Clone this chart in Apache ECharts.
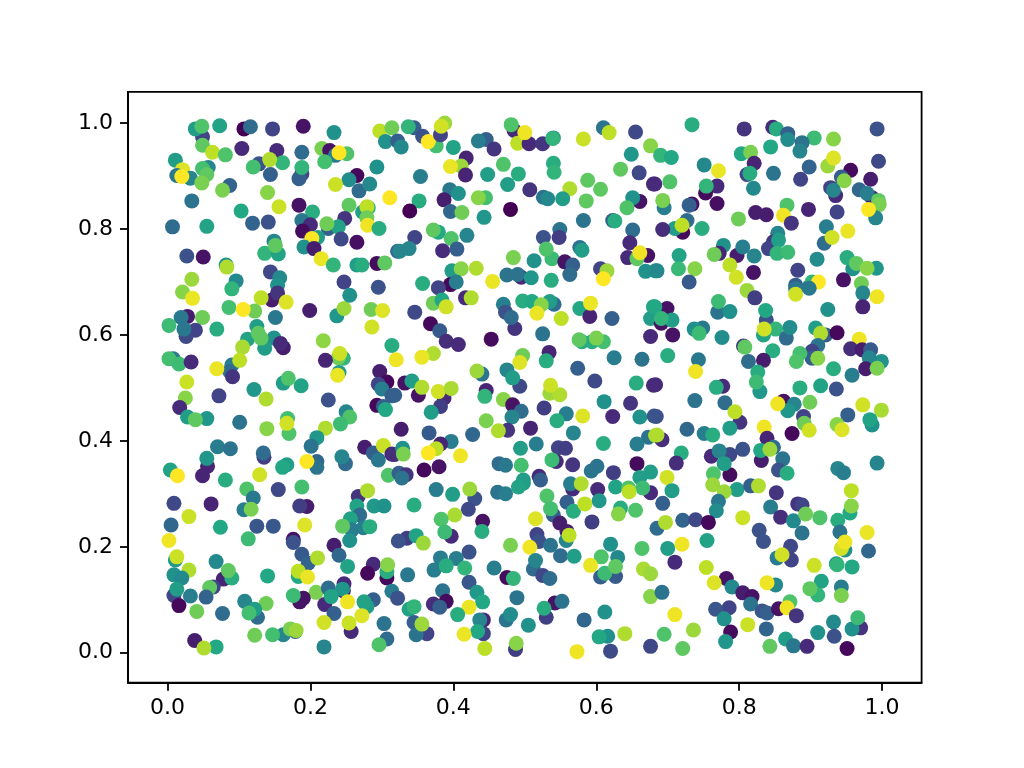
<!DOCTYPE html>
<html>
<head>
<meta charset="utf-8">
<title>Scatter</title>
<script src="https://cdn.jsdelivr.net/npm/echarts@6/dist/echarts.min.js"></script>
<style>
  html, body { margin: 0; padding: 0; background: #fff; }
  #chart { width: 1024px; height: 768px; }
</style>
</head>
<body>
<div id="chart"></div>
<script>
// points as [x, y, colour value 0..1], back to front in each block
const topLeft = [[.049,.974,.2],[.039,.989,.55],[.048,.994,.72],[.073,.995,.58],[.107,.989,0],[.116,.993,.35],[.147,.989,.2],[.190,.994,.05],[.233,.982,.5],[.297,.985,.9],[.314,.991,.78],[.305,.965,.5],[.049,.958,.75],[.063,.945,.9],[.081,.940,.72],[.104,.952,.12],[.153,.948,.12],[.188,.945,.35],[.011,.930,.55],[.216,.952,.8],[.227,.948,.05],[.235,.939,.42],[.251,.942,.72],[.240,.944,1],[.220,.927,.7],[.057,.916,.45],[.049,.914,.7],[.055,.903,.75],[.021,.912,.95],[.013,.901,.4],[.032,.896,.45],[.020,.899,1],[.128,.923,.25],[.120,.917,.7],[.161,.925,.65],[.143,.931,.88],[.144,.903,.3],[.188,.904,.2],[.184,.895,.3],[.188,.916,.65],[.293,.917,.5],[.265,.901,.02],[.254,.893,.48],[.268,.872,.35],[.283,.885,.47],[.235,.884,.92],[.087,.882,.32],[.077,.873,.8],[.048,.887,.8],[.140,.869,.82],[.034,.853,.38],[.184,.845,.05],[.203,.832,.62],[.311,.859,1],[.254,.845,.75],[.273,.832,.55],[.281,.840,.65],[.279,.842,.9],[.279,.821,.78],[.280,.807,.98],[.296,.801,.62],[.156,.842,.92],[.103,.834,.6],[.007,.804,.35],[.055,.805,.58],[.119,.811,.32],[.141,.813,.25],[.188,.816,.4],[.200,.808,.12],[.248,.820,.15],[.189,.796,.03],[.225,.801,.3],[.239,.804,.58],[.223,.810,.78],[.210,.784,.55],[.202,.782,1],[.243,.781,.22],[.265,.775,.04],[.149,.777,.45],[.136,.754,.65],[.155,.753,.58],[.151,.769,.75],[.191,.766,.5],[.205,.763,.08],[.027,.749,.25],[.050,.747,.05],[.215,.744,.97],[.232,.732,.65],[.082,.732,.5],[.083,.728,.88],[.265,.732,.55],[.272,.732,.62],[.293,.735,.03],[.304,.736,.75],[.144,.719,.22],[.157,.708,.47],[.154,.694,.5],[.096,.702,.47],[.034,.705,.85],[.247,.700,.2],[.295,.690,.25]];
const topCentre = [[.345,.991,.3],[.337,.993,.65],[.357,.975,.25],[.376,.957,.7],[.365,.965,1],[.382,.978,.2],[.388,1,.85],[.383,.994,.93],[.322,.966,.3],[.327,.955,.47],[.400,.954,.58],[.446,.969,.3],[.435,.966,.42],[.457,.951,.15],[.485,.986,.12],[.481,.997,.72],[.490,.962,.9],[.506,.961,.12],[.500,.982,.98],[.525,.961,.15],[.540,.972,.5],[.539,.971,.65],[.582,.970,.92],[.610,.991,.38],[.618,.982,.9],[.655,.983,.22],[.676,.957,.82],[.418,.934,.1],[.411,.919,.85],[.396,.918,.97],[.417,.902,.1],[.470,.922,.72],[.540,.924,.62],[.541,.907,.65],[.649,.941,.52],[.354,.899,.42],[.448,.903,.55],[.491,.904,.62],[.634,.913,.75],[.660,.906,.22],[.680,.885,.12],[.476,.884,.55],[.395,.874,.4],[.387,.855,.08],[.407,.867,.5],[.445,.859,.7],[.435,.859,.82],[.507,.874,.15],[.588,.892,.75],[.606,.875,.75],[.563,.876,.88],[.526,.860,.38],[.532,.857,.47],[.553,.857,.55],[.586,.853,.75],[.661,.852,.05],[.651,.859,.5],[.643,.840,.72],[.352,.853,.62],[.339,.834,0],[.480,.837,0],[.396,.833,.33],[.412,.831,.78],[.443,.822,.52],[.582,.816,.38],[.623,.816,.3],[.626,.815,.62],[.651,.798,.35],[.549,.799,.38],[.548,.784,.18],[.526,.784,.25],[.346,.784,.2],[.379,.794,.6],[.372,.798,.75],[.397,.782,.72],[.419,.788,.45],[.385,.759,.12],[.405,.762,.3],[.322,.758,.33],[.325,.758,.45],[.338,.763,.45],[.538,.744,.68],[.530,.762,.72],[.484,.746,.8],[.513,.740,.5],[.577,.765,.38],[.580,.760,.55],[.647,.774,.12],[.644,.746,.12],[.672,.750,.05],[.657,.744,.75],[.661,.755,.98],[.556,.738,.05],[.567,.732,.3],[.563,.714,.35],[.398,.721,.55],[.411,.725,.82],[.432,.726,.88],[.606,.725,.2],[.615,.721,.85],[.610,.706,1],[.669,.720,.5],[.683,.721,.5],[.495,.709,.12],[.475,.713,.38],[.490,.714,.38],[.509,.708,.52],[.537,.703,.62],[.455,.701,.97],[.357,.697,.62],[.396,.695,.02],[.379,.689,.2],[.404,.700,.42]];
const topRight = [[.734,.997,.62],[.807,.989,.15],[.847,.992,.12],[.852,.989,.62],[.868,.980,.3],[.868,.969,.48],[.905,.972,.68],[.932,.970,.82],[.993,.989,.25],[.888,.963,.38],[.885,.947,.45],[.844,.955,.6],[.803,.942,.6],[.816,.945,.8],[.690,.939,.65],[.705,.935,.6],[.751,.921,.47],[.771,.910,.97],[.821,.924,.1],[.811,.903,.2],[.815,.905,.62],[.848,.905,.38],[.898,.917,.32],[.924,.919,.85],[.932,.934,.95],[.995,.928,.22],[.956,.911,.03],[.943,.898,.3],[.947,.891,.82],[.886,.894,.2],[.984,.894,.08],[.928,.878,.2],[.935,.863,.12],[.932,.873,.45],[.968,.874,.33],[.986,.859,.1],[.979,.867,.42],[.995,.854,.75],[.996,.846,.8],[.991,.821,.45],[.981,.837,1],[.682,.885,.12],[.703,.889,.72],[.769,.881,.12],[.753,.868,.03],[.754,.881,.65],[.820,.877,.47],[.769,.848,.04],[.734,.847,.05],[.730,.845,.3],[.695,.840,.42],[.693,.854,.8],[.867,.845,.72],[.823,.831,.08],[.838,.827,.08],[.862,.826,.98],[.799,.819,.78],[.897,.837,.1],[.937,.832,.2],[.873,.811,.15],[.727,.816,.35],[.721,.794,.03],[.710,.801,.55],[.720,.807,.9],[.748,.801,.62],[.693,.799,.13],[.922,.804,.42],[.952,.796,.97],[.919,.773,.35],[.930,.784,.93],[.854,.792,.45],[.848,.776,.15],[.841,.763,.2],[.855,.779,.55],[.853,.754,.65],[.868,.756,.68],[.778,.769,.5],[.772,.754,.1],[.765,.752,.78],[.797,.750,.08],[.805,.766,.42],[.821,.749,.45],[.909,.743,.48],[.716,.750,.58],[.685,.721,.47],[.715,.725,.67],[.738,.725,.82],[.787,.732,.9],[.796,.709,.93],[.882,.722,.2],[.820,.718,.05],[.959,.725,.5],[.951,.746,.62],[.964,.735,.75],[.992,.726,.52],[.979,.726,.82],[.946,.704,.05],[.730,.700,.28],[.971,.697,.78],[.879,.694,.3],[.898,.691,.35],[.902,.700,.65],[.911,.700,1]];
const midLeft = [[.021,.681,.82],[.035,.669,.97],[.090,.687,.65],[.086,.652,.7],[.122,.645,.78],[.106,.648,1],[.146,.666,.08],[.154,.679,.15],[.131,.670,.9],[.166,.662,.95],[.199,.646,.08],[.151,.633,.4],[.237,.636,.52],[.247,.650,.85],[.255,.675,.5],[.285,.648,.78],[.301,.646,.95],[.286,.615,.93],[.028,.635,.08],[.019,.633,.4],[.049,.633,.78],[.002,.618,.68],[.039,.609,.2],[.026,.597,.22],[.023,.611,.4],[.069,.611,.62],[.125,.616,.55],[.112,.592,.58],[.149,.594,.5],[.162,.576,.08],[.158,.584,.12],[.136,.575,.55],[.127,.603,.75],[.131,.594,.75],[.105,.577,.87],[.218,.589,.83],[.314,.580,.62],[.246,.556,.65],[.239,.557,.78],[.241,.565,.92],[.221,.552,.1],[.008,.555,.4],[.002,.555,.7],[.016,.545,.68],[.033,.549,.12],[.090,.543,.42],[.087,.531,.35],[.091,.521,.15],[.101,.552,.9],[.069,.536,.97],[.240,.529,.55],[.238,.524,.97],[.027,.511,.92],[.162,.509,.55],[.169,.518,.72],[.187,.504,.58],[.121,.497,.52],[.138,.479,.88],[.072,.485,.2],[.025,.481,.82],[.017,.463,.12],[.225,.477,.25],[.028,.445,.55],[.055,.442,.52],[.039,.440,.75],[.101,.435,.38],[.250,.455,.45],[.255,.445,.72],[.242,.432,.68],[.168,.442,.7],[.170,.414,.72],[.167,.433,.93],[.139,.423,.82],[.221,.424,.88],[.209,.406,.52],[.201,.390,.38],[.297,.531,.08],[.307,.511,.02],[.295,.507,.2],[.300,.498,.42],[.314,.485,.3],[.293,.467,.02],[.302,.465,.3],[.305,.459,.6],[.276,.388,.08],[.288,.377,.3],[.302,.391,.92],[.295,.364,.4],[.314,.375,.12],[.070,.389,.42],[.088,.385,.38],[.135,.369,.18],[.134,.377,.35],[.249,.357,.35],[.244,.370,.45],[.209,.361,.33],[.209,.350,.38],[.195,.361,1],[.167,.355,.55],[.161,.350,.6],[.056,.352,.1],[.055,.367,.52],[.049,.334,.1],[.004,.345,.58],[.014,.334,1],[.129,.336,.93],[.081,.326,.62],[.309,.335,.72]];
const midCentre = [[.372,.660,.78],[.384,.666,.6],[.390,.653,.93],[.417,.670,.12],[.425,.670,.88],[.346,.643,.22],[.368,.621,.02],[.381,.608,.28],[.390,.588,.13],[.407,.582,.12],[.453,.592,.03],[.470,.658,.43],[.473,.643,.25],[.486,.612,.15],[.481,.633,.35],[.497,.664,.62],[.510,.663,.6],[.541,.658,.35],[.535,.663,.55],[.523,.657,.82],[.517,.641,.97],[.551,.631,.9],[.577,.650,.6],[.591,.635,.1],[.592,.660,.97],[.622,.631,.3],[.525,.602,.38],[.680,.653,.6],[.676,.631,.55],[.676,.597,.12],[.580,.587,.62],[.594,.587,.62],[.610,.587,.7],[.576,.591,.75],[.600,.594,.8],[.625,.557,.42],[.664,.554,.38],[.534,.567,.1],[.530,.551,.62],[.497,.561,.78],[.493,.548,.95],[.320,.553,.98],[.372,.565,.88],[.356,.558,.97],[.574,.537,.3],[.598,.513,.22],[.440,.526,.38],[.433,.532,.85],[.475,.534,.45],[.493,.503,.22],[.483,.519,.55],[.332,.509,.05],[.342,.513,.55],[.351,.486,.05],[.356,.501,.88],[.318,.486,.3],[.387,.481,.12],[.382,.465,.18],[.379,.493,.93],[.397,.499,.87],[.446,.495,.1],[.444,.484,.65],[.656,.509,.62],[.680,.505,.13],[.535,.490,.85],[.549,.487,.88],[.536,.505,.92],[.611,.474,.5],[.648,.471,.15],[.369,.454,.55],[.470,.478,.82],[.483,.468,.05],[.495,.456,.35],[.482,.445,.45],[.527,.462,.18],[.558,.451,.42],[.545,.438,.62],[.581,.447,.95],[.623,.446,.12],[.661,.445,.5],[.681,.447,.28],[.446,.438,.8],[.476,.420,.15],[.463,.419,.88],[.508,.424,.1],[.327,.422,.08],[.366,.415,.28],[.427,.412,.33],[.568,.415,.45],[.673,.407,.38],[.683,.410,.88],[.657,.394,.42],[.610,.395,.62],[.397,.399,.42],[.382,.394,.1],[.376,.385,.9],[.365,.377,1],[.516,.394,.42],[.494,.386,.55],[.547,.387,.2],[.557,.386,.18],[.544,.361,.12],[.538,.364,.68],[.410,.372,.98],[.317,.374,.13],[.329,.386,.5],[.330,.375,.8],[.495,.354,.7],[.464,.357,.35],[.473,.354,.4],[.380,.351,.05],[.359,.345,.02],[.567,.355,.15],[.601,.352,.38],[.593,.343,.38],[.657,.357,.03],[.624,.340,.18],[.676,.341,.55],[.661,.331,.55],[.520,.333,.12],[.522,.326,.3],[.498,.326,.55],[.324,.339,.3],[.334,.336,.15],[.328,.330,.38]];
const midRight = [[.811,.684,.85],[.822,.670,.18],[.879,.687,.4],[.879,.677,.93],[.898,.688,.4],[.973,.679,.45],[.973,.653,.1],[.993,.672,.98],[.770,.643,.38],[.771,.663,.68],[.787,.644,.5],[.924,.648,.5],[.699,.650,.05],[.682,.653,.6],[.691,.622,.05],[.706,.628,.55],[.691,.631,.65],[.838,.628,.25],[.837,.646,.6],[.749,.613,.4],[.737,.611,.5],[.744,.603,.68],[.707,.600,.05],[.776,.595,.48],[.834,.600,.58],[.851,.611,.65],[.835,.611,.93],[.866,.594,.35],[.871,.614,.48],[.907,.613,.55],[.921,.600,.3],[.914,.603,.88],[.937,.604,.02],[.968,.592,.98],[.806,.579,.18],[.808,.577,.75],[.910,.580,.38],[.956,.574,.13],[.972,.572,.08],[.984,.572,.28],[.999,.550,.5],[.982,.557,.45],[.977,.536,.08],[.993,.537,.8],[.847,.570,.62],[.700,.561,.62],[.902,.569,.2],[.902,.556,.3],[.885,.565,.7],[.880,.550,.72],[.910,.556,.82],[.743,.553,.4],[.739,.531,.98],[.834,.552,.08],[.813,.550,.35],[.932,.536,.62],[.829,.493,.52],[.826,.530,.62],[.824,.511,.68],[.958,.524,.42],[.683,.506,.12],[.777,.503,.12],[.768,.501,.62],[.885,.500,.62],[.914,.504,.58],[.936,.498,.25],[.862,.475,.05],[.877,.469,.45],[.868,.457,.52],[.854,.470,.98],[.899,.473,.78],[.738,.476,.38],[.780,.472,.35],[.973,.468,.93],[.999,.458,.87],[.952,.449,.3],[.801,.435,.15],[.794,.455,.9],[.890,.446,.2],[.891,.433,.78],[.898,.420,.93],[.684,.446,.25],[.937,.431,.82],[.944,.421,.95],[.986,.430,.5],[.983,.440,.58],[.874,.414,.02],[.727,.422,.33],[.787,.424,.55],[.835,.426,.98],[.751,.414,.42],[.763,.411,.62],[.692,.402,.13],[.685,.411,.88],[.839,.405,.1],[.848,.388,.35],[.831,.363,.08],[.830,.382,.6],[.843,.384,.85],[.861,.366,.38],[.855,.345,.25],[.867,.339,.62],[.805,.384,.25],[.719,.377,.62],[.712,.358,.13],[.761,.371,.12],[.787,.374,.22],[.772,.381,.45],[.787,.336,.03],[.779,.357,.55],[.993,.358,.45],[.938,.348,.45],[.946,.340,.42],[.699,.331,.93],[.764,.338,.72]];
const lowLeft = [[.188,.313,.7],[.155,.308,.22],[.111,.309,.72],[.120,.292,.4],[.009,.282,.22],[.061,.281,.1],[.030,.257,.92],[.195,.276,.08],[.185,.277,.18],[.267,.295,.15],[.280,.306,.88],[.265,.277,.58],[.289,.277,.53],[.303,.277,.5],[.107,.270,.42],[.117,.271,.8],[.005,.241,.33],[.074,.237,.6],[.125,.239,.27],[.148,.239,.27],[.192,.241,.95],[.113,.215,.68],[.002,.212,.98],[.269,.260,.35],[.256,.253,.58],[.258,.232,.42],[.274,.236,.42],[.283,.238,.62],[.245,.239,.75],[.255,.212,.5],[.176,.214,.05],[.176,.208,.25],[.233,.203,.08],[.240,.184,.33],[.188,.186,.28],[.197,.169,.32],[.210,.179,.88],[.011,.175,.52],[.013,.181,.92],[.068,.172,.47],[.252,.163,.58],[.288,.167,.12],[.280,.150,.02],[.307,.141,.02],[.307,.153,.62],[.308,.166,.82],[.030,.156,.88],[.009,.147,.5],[.020,.141,.47],[.078,.139,.1],[.090,.141,.62],[.085,.155,.75],[.140,.145,.6],[.183,.144,.6],[.183,.154,.9],[.196,.143,.97],[.064,.124,.2],[.059,.123,.75],[.009,.108,.2],[.016,.089,.02],[.013,.120,.55],[.032,.107,.42],[.054,.105,.32],[.208,.114,.8],[.225,.122,.35],[.247,.130,.12],[.246,.117,.05],[.245,.120,.52],[.220,.091,.12],[.229,.106,.58],[.190,.103,.05],[.185,.096,.05],[.176,.108,.68],[.314,.116,.42],[.288,.100,.3],[.279,.087,.55],[.275,.096,.58],[.252,.096,.98],[.108,.097,.45],[.138,.093,.78],[.126,.067,.35],[.122,.082,.55],[.114,.075,.7],[.041,.078,.78],[.077,.074,.35],[.233,.074,.3],[.272,.070,.95],[.303,.055,.38],[.219,.057,.93],[.257,.040,.12],[.254,.056,.92],[.122,.033,.78],[.162,.034,.45],[.147,.034,.7],[.179,.040,.32],[.172,.045,.8],[.180,.042,.85],[.038,.023,.08],[.068,.011,.6],[.051,.009,.88],[.219,.011,.45],[.307,.026,.35],[.296,.015,.72]];
const lowCentre = [[.376,.308,.42],[.399,.299,.55],[.430,.291,.25],[.423,.309,.85],[.421,.271,.22],[.345,.279,.62],[.462,.303,.38],[.473,.300,.42],[.498,.320,.55],[.491,.313,.58],[.567,.309,.12],[.564,.319,.42],[.579,.319,.88],[.602,.308,.12],[.604,.287,.52],[.676,.302,.12],[.627,.313,.58],[.665,.311,.68],[.645,.311,.72],[.646,.304,.9],[.634,.273,.62],[.631,.262,.82],[.655,.269,.72],[.559,.284,.3],[.540,.260,.3],[.531,.296,.72],[.536,.272,.7],[.549,.245,.08],[.568,.267,.62],[.584,.281,.9],[.594,.247,.18],[.515,.253,.95],[.402,.260,.87],[.383,.252,.72],[.441,.248,.05],[.440,.229,.62],[.397,.220,.12],[.388,.228,.68],[.559,.229,.08],[.558,.212,.45],[.562,.222,.9],[.517,.223,.2],[.520,.210,.25],[.536,.203,.38],[.335,.216,.18],[.323,.211,.25],[.348,.221,.58],[.358,.207,.85],[.480,.203,.8],[.507,.199,.98],[.422,.190,.25],[.620,.205,.5],[.550,.183,.35],[.569,.182,.55],[.664,.197,.72],[.382,.179,.42],[.404,.178,.42],[.373,.156,.42],[.390,.164,.62],[.416,.160,.65],[.630,.180,.47],[.607,.181,.72],[.512,.158,.35],[.515,.174,.45],[.592,.165,.97],[.457,.160,.42],[.336,.147,.4],[.666,.158,.87],[.676,.149,.85],[.606,.143,.3],[.627,.144,.28],[.612,.150,.68],[.627,.163,.75],[.525,.146,.22],[.535,.140,.35],[.475,.142,.03],[.484,.140,.65],[.422,.133,.27],[.385,.117,.38],[.433,.114,.53],[.441,.096,.6],[.322,.103,.25],[.489,.104,.38],[.676,.106,.82],[.390,.097,.03],[.372,.092,.13],[.381,.086,.3],[.542,.094,.05],[.552,.097,.38],[.530,.067,.18],[.527,.084,.62],[.338,.082,.58],[.345,.087,.65],[.422,.086,.97],[.406,.072,.62],[.612,.077,.5],[.583,.062,.33],[.474,.062,.38],[.480,.072,.48],[.442,.062,.1],[.437,.062,.45],[.345,.057,.3],[.363,.036,.2],[.348,.034,.38],[.356,.054,.85],[.505,.052,.5],[.442,.036,.2],[.434,.040,.6],[.415,.035,.97],[.640,.036,.88],[.616,.031,.5],[.604,.030,.6],[.487,.006,.18],[.488,.018,.82],[.444,.008,.9],[.573,.002,.98],[.620,.003,.23],[.676,.012,.22]];
const lowRight = [[.706,.306,.55],[.693,.282,.3],[.763,.317,.85],[.797,.308,.55],[.779,.304,.85],[.816,.315,.3],[.827,.315,.88],[.771,.286,.4],[.768,.268,.48],[.852,.302,.15],[.955,.264,.6],[.957,.306,.9],[.957,.277,.82],[.844,.275,.42],[.882,.281,.15],[.888,.279,.2],[.858,.256,.13],[.876,.249,.47],[.893,.262,.78],[.913,.255,.72],[.721,.250,.32],[.739,.251,.22],[.757,.246,.02],[.805,.255,.92],[.685,.235,.35],[.697,.246,.88],[.938,.250,.62],[.828,.231,.25],[.834,.210,.25],[.888,.226,.38],[.941,.228,.38],[.979,.227,.97],[.755,.212,.58],[.720,.205,.98],[.700,.197,.55],[.948,.194,.5],[.943,.197,.93],[.948,.209,.98],[.981,.192,.33],[.872,.201,.22],[.853,.179,.42],[.873,.175,.2],[.860,.185,.93],[.710,.171,.12],[.936,.168,.52],[.937,.166,.65],[.958,.162,.6],[.905,.165,.92],[.754,.161,.9],[.782,.140,.05],[.790,.124,.47],[.765,.132,.95],[.851,.128,.47],[.839,.132,.98],[.915,.135,.58],[.910,.109,.65],[.899,.121,.75],[.943,.124,.42],[.943,.108,.8],[.692,.114,.38],[.805,.113,.08],[.818,.106,.05],[.816,.092,.38],[.786,.085,.2],[.767,.082,.27],[.779,.064,.5],[.832,.079,.27],[.839,.075,.3],[.855,.083,.05],[.871,.096,.72],[.867,.085,.98],[.880,.070,.15],[.710,.072,.98],[.812,.053,.92],[.788,.039,.03],[.781,.021,.52],[.736,.043,.85],[.838,.045,.32],[.695,.035,.72],[.932,.058,.47],[.970,.047,.15],[.958,.045,.5],[.966,.066,.68],[.910,.038,.5],[.865,.026,.55],[.876,.013,.4],[.895,.012,.12],[.933,.031,.25],[.951,.008,.02],[.843,.012,.75],[.721,.008,.75]];

const xTickValues = [0, 0.2, 0.4, 0.6, 0.8, 1];
const yTickValues = [0, 0.2, 0.4, 0.6, 0.8, 1];
const viridis = ['#440154', '#482475', '#414487', '#355f8d', '#2a788e', '#21918c', '#22a884', '#44bf70', '#7ad151', '#bddf26', '#fde725'];

let points = [].concat(topLeft, topCentre, topRight, midLeft, midCentre, midRight, lowLeft, lowCentre, lowRight);

function axisStyle(ticks) {
    return {
        type: 'value',
        splitLine: {show: false},
        axisLine: {show: true, onZero: false, lineStyle: {color: '#000', width: 1.8}},
        axisTick: {show: true, customValues: ticks, length: 8, lineStyle: {color: '#000', width: 1.8}},
        axisLabel: {
            customValues: ticks,
            color: '#000',
            fontFamily: 'DejaVu Sans',
            fontSize: 22,
            margin: 15,
            formatter: function (v) { return (+v).toFixed(1); }
        }
    };
}

let myChart = echarts.init(document.getElementById('chart'));
let option = {
    backgroundColor: '#fff',
    animation: false,
    grid: {show: true, borderColor: '#000', borderWidth: 1.8, left: 128, right: 102.4, top: 91.8, bottom: 85.3},
    xAxis: Object.assign(axisStyle(xTickValues), {min: -0.0553, max: 1.0553}),
    yAxis: Object.assign(axisStyle(yTickValues), {min: -0.0566, max: 1.059}),
    visualMap: {show: false, dimension: 2, min: 0, max: 1, seriesIndex: 0, inRange: {color: viridis}},
    series: [
        {
            type: 'scatter',
            data: points,
            symbolSize: 15,
            itemStyle: {opacity: 1},
            emphasis: {disabled: true}
        }
    ]
};
myChart.setOption(option);
</script>
</body>
</html>
